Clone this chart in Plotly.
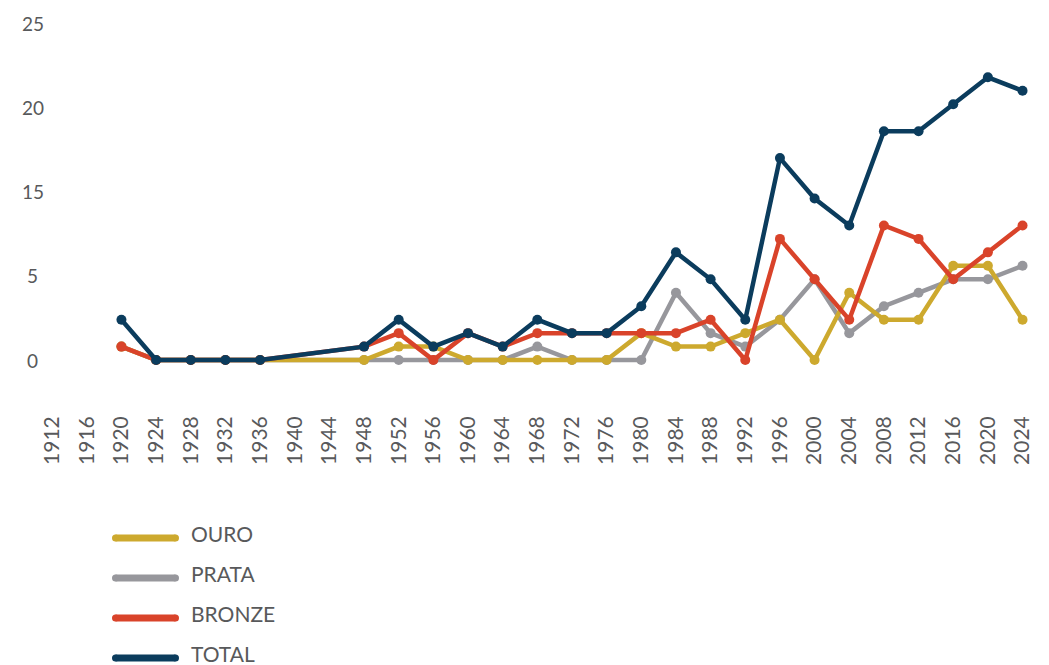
import plotly.graph_objects as go

# Brazil's Olympic medals per Summer Games
years = [1920, 1924, 1928, 1932, 1936, 1948, 1952, 1956, 1960, 1964, 1968, 1972,
         1976, 1980, 1984, 1988, 1992, 1996, 2000, 2004, 2008, 2012, 2016, 2020, 2024]
ouro = [1, 0, 0, 0, 0, 0, 1, 1, 0, 0, 0, 0, 0, 2, 1, 1, 2, 3, 0, 5, 3, 3, 7, 7, 3]
prata = [1, 0, 0, 0, 0, 0, 0, 0, 0, 0, 1, 0, 0, 0, 5, 2, 1, 3, 6, 2, 4, 5, 6, 6, 7]
bronze = [1, 0, 0, 0, 0, 1, 2, 0, 2, 1, 2, 2, 2, 2, 2, 3, 0, 9, 6, 3, 10, 9, 6, 8, 10]
total = [3, 0, 0, 0, 0, 1, 3, 1, 2, 1, 3, 2, 2, 4, 8, 6, 3, 15, 12, 10, 17, 17, 19, 21, 20]

# axis labels
x_ticks = list(range(1912, 2025, 4))
y_tickvals = [0, 6.25, 12.5, 18.75, 25]
y_ticktext = ["0", "5", "15", "20", "25"]

series_names = ["OURO", "PRATA", "BRONZE", "TOTAL"]
series_colors = ["#CDA92E", "#97979C", "#D9432A", "#0B3C5D"]

FONT = "Lato"
TEXT_COLOR = "#58595B"
W, H = 1049, 665
ML, MR, MT, MB = 40, 10, 10, 278
PW, PH = W - ML - MR, H - MT - MB

fig = go.Figure()

# silver first so gold sits on top of it where both are zero
draw_order = [1, 0, 2, 3]
values = [ouro, prata, bronze, total]
for i in draw_order:
    fig.add_trace(go.Scatter(
        x=years, y=values[i], name=series_names[i], mode="lines+markers",
        line=dict(color=series_colors[i], width=4.5),
        marker=dict(color=series_colors[i], size=10),
        showlegend=False,
    ))


def px_to_paper(px, py):
    return (px - ML) / PW, (H - MB - py) / PH


shapes = []
annotations = []

# legend: thick rounded strokes with labels beneath the chart
leg_x0, leg_x1 = 115.5, 175.5
leg_text_x = 190
leg_rows = [538, 578, 618, 658]
cap_r = 3.5
for name, color, py in zip(series_names, series_colors, leg_rows):
    x0, y0 = px_to_paper(leg_x0, py)
    x1, _ = px_to_paper(leg_x1, py)
    shapes.append(dict(type="line", xref="paper", yref="paper", x0=x0, x1=x1, y0=y0, y1=y0,
                       line=dict(color=color, width=7)))
    for cx in (leg_x0, leg_x1):
        ax0, ay0 = px_to_paper(cx - cap_r, py + cap_r)
        ax1, ay1 = px_to_paper(cx + cap_r, py - cap_r)
        shapes.append(dict(type="circle", xref="paper", yref="paper", x0=ax0, x1=ax1,
                           y0=ay0, y1=ay1, fillcolor=color, line=dict(width=0)))
    tx, ty = px_to_paper(leg_text_x, py - 5)
    annotations.append(dict(text=name, xref="paper", yref="paper", x=tx, y=ty,
                            xanchor="left", yanchor="middle", showarrow=False,
                            borderpad=0,
                            font=dict(family=FONT, size=21, color=TEXT_COLOR)))

# y-axis labels, centred in the left gutter
lab_x, _ = px_to_paper(32.5, 0)
for v, t in zip(y_tickvals, y_ticktext):
    annotations.append(dict(text=t, xref="paper", yref="y", x=lab_x, y=v,
                            xanchor="center", yanchor="middle", showarrow=False,
                            font=dict(family=FONT, size=19, color=TEXT_COLOR)))

fig.update_layout(
    width=W, height=H,
    margin=dict(l=ML, r=MR, t=MT, b=MB, pad=0),
    paper_bgcolor="white", plot_bgcolor="white",
    font=dict(family=FONT, color=TEXT_COLOR),
    shapes=shapes, annotations=annotations,
    showlegend=False,
)
fig.update_xaxes(
    range=[1910.6, 2025.9], tickmode="array", tickvals=x_ticks,
    ticktext=[str(y) for y in x_ticks], tickangle=-90,
    tickfont=dict(family=FONT, size=21, color=TEXT_COLOR),
    showgrid=False, zeroline=False, showline=False, ticks="",
    ticklabelstandoff=24,
)
fig.update_yaxes(
    range=[-2, 26], showticklabels=False, showgrid=False, zeroline=False,
    showline=False, ticks="",
)

fig.write_html("out.html")
